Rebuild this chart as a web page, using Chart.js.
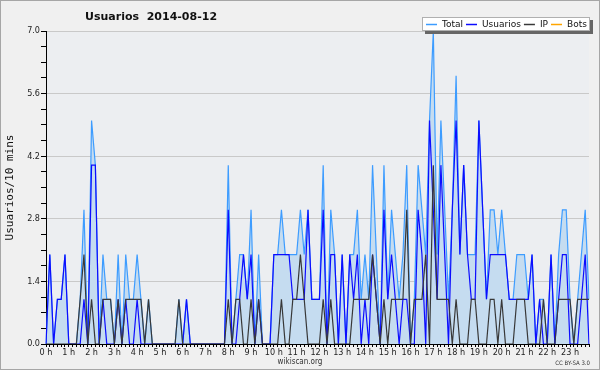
<!DOCTYPE html>
<html>
<head>
<meta charset="utf-8">
<title>Usuarios 2014-08-12</title>
<script src="https://cdn.jsdelivr.net/npm/chart.js@4/dist/chart.umd.min.js"></script>
<style>
    html, body { margin: 0; padding: 0; background: #fff; }
    #wrap { width: 600px; height: 370px; }
</style>
</head>
<body>
<div id="wrap"><canvas id="chart" width="600" height="370"></canvas></div>
<script>
(function () {

    // ================= DATA =================
    const titleText = "Usuarios  2014-08-12";
    const hourLabels = ["0 h", "1 h", "2 h", "3 h", "4 h", "5 h", "6 h", "7 h", "8 h", "9 h", "10 h", "11 h",
                        "12 h", "13 h", "14 h", "15 h", "16 h", "17 h", "18 h", "19 h", "20 h", "21 h", "22 h", "23 h"];
    const yTickLabels = ["0.0", "1.4", "2.8", "4.2", "5.6", "7.0"];

    // one value per 10 minutes, one row per hour
    const totalData = [
        0, 2, 0, 1, 1, 2,   0, 0, 0, 1, 3, 0,   5, 4, 0, 2, 1, 1,   0, 2, 0, 2, 1, 1,
        2, 1, 0, 1, 0, 0,   0, 0, 0, 0, 0, 1,   0, 1, 0, 0, 0, 0,   0, 0, 0, 0, 0, 0,
        4, 0, 1, 2, 2, 1,   3, 0, 2, 0, 0, 0,   2, 2, 3, 2, 2, 2,   2, 3, 2, 3, 1, 1,
        1, 4, 0, 3, 2, 0,   2, 0, 2, 2, 3, 1,   2, 1, 4, 2, 0, 4,   1, 3, 2, 1, 2, 4,
        0, 1, 4, 3, 2, 5,   7, 2, 5, 3, 1, 3,   6, 2, 4, 2, 2, 2,   5, 3, 1, 3, 3, 2,
        3, 2, 1, 1, 2, 2,   2, 1, 2, 0, 1, 1,   0, 2, 0, 2, 3, 3,   1, 0, 1, 2, 3, 1
    ];
    const usuariosData = [
        0, 2, 0, 1, 1, 2,   0, 0, 0, 0, 1, 0,   4, 4, 0, 1, 0, 0,   0, 1, 0, 1, 0, 0,
        1, 0, 0, 0, 0, 0,   0, 0, 0, 0, 0, 0,   0, 1, 0, 0, 0, 0,   0, 0, 0, 0, 0, 0,
        3, 0, 0, 1, 2, 1,   2, 0, 1, 0, 0, 0,   2, 2, 2, 2, 2, 1,   1, 1, 1, 3, 1, 1,
        1, 3, 0, 2, 2, 0,   2, 0, 2, 1, 2, 0,   1, 0, 2, 1, 0, 3,   1, 2, 1, 0, 1, 1,
        0, 0, 3, 2, 0, 5,   3, 1, 4, 2, 0, 3,   5, 2, 4, 2, 1, 1,   5, 3, 1, 2, 2, 2,
        2, 2, 1, 1, 1, 1,   1, 1, 2, 0, 1, 0,   0, 2, 0, 1, 2, 2,   0, 0, 0, 1, 2, 0
    ];
    const ipData = [
        0, 0, 0, 0, 0, 0,   0, 0, 0, 1, 2, 0,   1, 0, 0, 1, 1, 1,   0, 1, 0, 1, 1, 1,
        1, 1, 0, 1, 0, 0,   0, 0, 0, 0, 0, 1,   0, 0, 0, 0, 0, 0,   0, 0, 0, 0, 0, 0,
        1, 0, 1, 1, 0, 0,   1, 0, 1, 0, 0, 0,   0, 0, 1, 0, 0, 1,   1, 2, 1, 0, 0, 0,
        0, 1, 0, 1, 0, 0,   0, 0, 0, 1, 1, 1,   1, 1, 2, 1, 0, 1,   0, 1, 1, 1, 1, 3,
        0, 1, 1, 1, 2, 0,   4, 1, 1, 1, 1, 0,   1, 0, 0, 0, 1, 1,   0, 0, 0, 1, 1, 0,
        1, 0, 0, 0, 1, 1,   1, 0, 0, 0, 0, 1,   0, 0, 0, 1, 1, 1,   1, 0, 1, 1, 1, 1
    ];
    const botsData = [
        0, 0, 0, 0, 0, 0,   0, 0, 0, 0, 0, 0,   0, 0, 0, 0, 0, 0,   0, 0, 0, 0, 0, 0,
        0, 0, 0, 0, 0, 0,   0, 0, 0, 0, 0, 0,   0, 0, 0, 0, 0, 0,   0, 0, 0, 0, 0, 0,
        0, 0, 0, 0, 0, 0,   0, 0, 0, 0, 0, 0,   0, 0, 0, 0, 0, 0,   0, 0, 0, 0, 0, 0,
        0, 0, 0, 0, 0, 0,   0, 0, 0, 0, 0, 0,   0, 0, 0, 0, 0, 0,   0, 0, 0, 0, 0, 0,
        0, 0, 0, 0, 0, 0,   0, 0, 0, 0, 0, 0,   0, 0, 0, 0, 0, 0,   0, 0, 0, 0, 0, 0,
        0, 0, 0, 0, 0, 0,   0, 0, 0, 0, 0, 0,   0, 0, 0, 0, 0, 0,   0, 0, 0, 0, 0, 0
    ];

    // a category per 10-minute slot, labelled only on the hour
    const slotLabels = hourLabels.flatMap(h => [h, "", "", "", "", ""]);

    const COLORS = {
        total: "#3d9cff",
        totalFill: "#c5dcf0",
        usuarios: "#0c0cff",
        ip: "#383838",
        bots: "#ffa500"
    };
    const SANS = "'DejaVu Sans Condensed', 'DejaVu Sans', sans-serif";

    // ================= PLUGINS =================
    const backdrop = {
        id: "backdrop",
        beforeDraw(chart) {
            const { ctx, chartArea: a, width, height } = chart;
            ctx.save();
            ctx.fillStyle = "#f0f0f0";
            ctx.fillRect(0, 0, width, height);
            ctx.strokeStyle = "#a6a6a6";
            ctx.lineWidth = 1;
            ctx.strokeRect(0.5, 0.5, width - 1, height - 1);
            ctx.fillStyle = "#eceef1";
            ctx.fillRect(a.left, a.top, a.right - a.left, a.bottom - a.top);
            ctx.restore();
        }
    };

    const decorations = {
        id: "decorations",
        afterDraw(chart) {
            const ctx = chart.ctx;
            ctx.save();

            // title
            ctx.font = "bold 11px 'DejaVu Sans', sans-serif";
            ctx.fillStyle = "#111";
            ctx.textAlign = "left";
            ctx.textBaseline = "middle";
            ctx.fillText(titleText, 85, 17);

            // footer
            ctx.font = "8px " + SANS;
            ctx.fillStyle = "#333";
            ctx.textAlign = "center";
            ctx.fillText("wikiscan.org", 300, 362);
            ctx.font = "6px " + SANS;
            ctx.textAlign = "right";
            ctx.fillText("CC BY-SA 3.0", 590, 363);

            // legend box with shadow
            ctx.fillStyle = "#666";
            ctx.fillRect(425, 20, 168, 14);
            ctx.fillStyle = "#fff";
            ctx.fillRect(422, 17, 168, 14);
            ctx.strokeStyle = "#b0b0b0";
            ctx.strokeRect(422.5, 17.5, 167, 13);

            ctx.font = "9px 'DejaVu Sans', sans-serif";
            ctx.textAlign = "left";
            ctx.fillStyle = "#111";
            let x = 426;
            const y = 24.5;
            chart.data.datasets.forEach(ds => {
                ctx.strokeStyle = ds.borderColor;
                ctx.lineWidth = 1.5;
                ctx.beginPath();
                ctx.moveTo(x, y);
                ctx.lineTo(x + 11, y);
                ctx.stroke();
                x += 16;
                ctx.fillText(ds.label, x, y);
                x += ctx.measureText(ds.label).width + 3;
            });

            ctx.restore();
        }
    };

    // ================= CHART =================
    const ctx = document.getElementById("chart").getContext("2d");
    new Chart(ctx, {
        type: "line",
        data: {
            labels: slotLabels,
            datasets: [
                { label: "Total", data: totalData, borderColor: COLORS.total, backgroundColor: COLORS.totalFill, fill: "origin", order: 3 },
                { label: "Usuarios", data: usuariosData, borderColor: COLORS.usuarios, fill: false, order: 2 },
                { label: "IP", data: ipData, borderColor: COLORS.ip, fill: false, order: 1 },
                { label: "Bots", data: botsData, borderColor: COLORS.bots, fill: false, order: 5 }
            ]
        },
        options: {
            responsive: false,
            animation: false,
            devicePixelRatio: 1,
            layout: { padding: { left: 0, right: 11, top: 31, bottom: 0 } },
            elements: {
                line: { borderWidth: 1.2, tension: 0 },
                point: { radius: 0, hoverRadius: 0 }
            },
            plugins: {
                legend: { display: false },
                title: { display: false },
                tooltip: { enabled: false }
            },
            scales: {
                x: {
                    type: "category",
                    offset: false,
                    z: 1,
                    border: { display: true, color: "#000", width: 1 },
                    grid: { drawOnChartArea: false, drawTicks: true, tickLength: 3, color: "#000" },
                    ticks: {
                        autoSkip: false,
                        maxRotation: 0,
                        minRotation: 0,
                        padding: 0,
                        color: "#222",
                        font: { family: SANS, size: 9 },
                        callback: (v, i) => slotLabels[i]
                    },
                    afterFit: s => { s.height = 26; }
                },
                y: {
                    min: 0,
                    max: 7,
                    border: { display: true, color: "#000", width: 1 },
                    grid: {
                        color: c => (c.index % 4 === 0 ? "#c9c9c9" : "rgba(0,0,0,0)"),
                        tickColor: "#000",
                        tickLength: 5,
                        drawTicks: true
                    },
                    ticks: {
                        stepSize: 0.35,
                        autoSkip: false,
                        padding: 1,
                        color: "#222",
                        font: { family: SANS, size: 9 },
                        callback: (v, i) => (i % 4 === 0 ? yTickLabels[i / 4] : "")
                    },
                    title: {
                        display: true,
                        text: "Usuarios/10 mins",
                        color: "#111",
                        font: { family: "'DejaVu Sans Mono', monospace", size: 11 },
                        padding: { top: 4, bottom: 0 }
                    },
                    afterFit: s => { s.width = 46; }
                }
            }
        },
        plugins: [backdrop, decorations]
    });

})();
</script>
</body>
</html>
